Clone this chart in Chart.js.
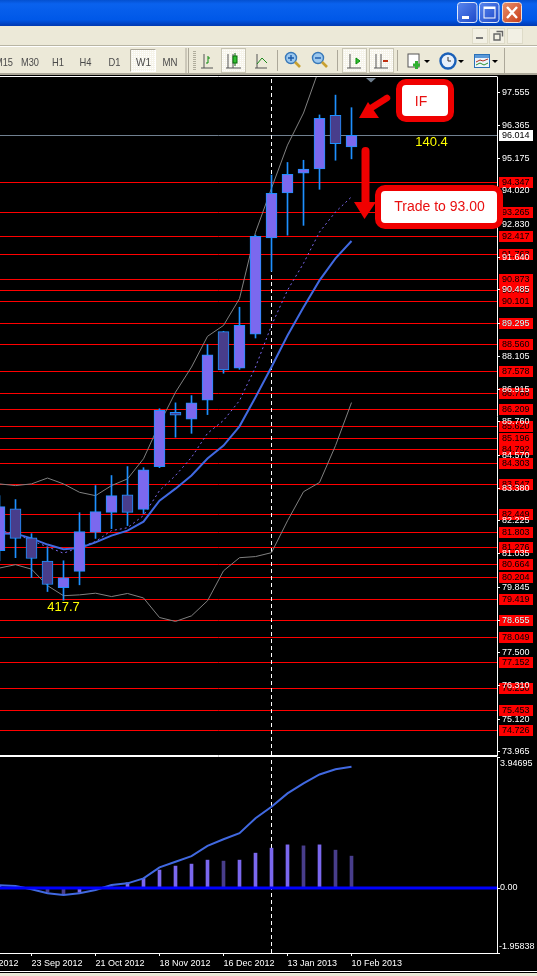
<!DOCTYPE html>
<html>
<head>
<meta charset="utf-8">
<title>Weekly chart</title>
<script src="https://cdn.jsdelivr.net/npm/chart.js@4"></script>
<style>
html, body { margin: 0; padding: 0; width: 537px; height: 976px; background: #000; overflow: hidden; }
#mainChart, #macdChart { position: absolute; left: -60px; }
#mainChart { top: 74px; }
#macdChart { top: 755px; }
#chrome { position: absolute; left: 0; top: 0; z-index: 2; font-family: "Liberation Sans", sans-serif; }
</style>
</head>
<body>
<canvas id="mainChart" width="597" height="682"></canvas>
<canvas id="macdChart" width="597" height="218"></canvas>

<svg id="chrome" width="537" height="976" xmlns="http://www.w3.org/2000/svg">
  <defs>
    <linearGradient id="title" x1="0" y1="0" x2="0" y2="1">
      <stop offset="0" stop-color="#0450d0"/><stop offset="0.15" stop-color="#0a62ee"/>
      <stop offset="0.75" stop-color="#0058e8"/><stop offset="1" stop-color="#0038b0"/>
    </linearGradient>
    <linearGradient id="winBtn" x1="0" y1="0" x2="1" y2="1">
      <stop offset="0" stop-color="#5a86ee"/><stop offset="1" stop-color="#1c48c8"/>
    </linearGradient>
    <linearGradient id="closeBtn" x1="0" y1="0" x2="1" y2="1">
      <stop offset="0" stop-color="#e8906c"/><stop offset="1" stop-color="#c83c18"/>
    </linearGradient>
    <pattern id="dots" width="2" height="2" patternUnits="userSpaceOnUse">
      <rect width="2" height="2" fill="#f6f4ea"/><rect width="1" height="1" fill="#fff"/>
    </pattern>
  </defs>

  <!-- window frame -->
  <rect x="0" y="0" width="537" height="26" fill="url(#title)"/>
  <rect x="0" y="26" width="537" height="47" fill="#ece9d8"/>
  <rect x="0" y="45" width="537" height="1" fill="#b8b5a4"/>
  <rect x="0" y="46" width="537" height="1" fill="#fff"/>
  <rect x="0" y="73" width="537" height="2" fill="#aca899"/>
  <rect x="0" y="973" width="537" height="3" fill="#ece9d8"/>
  <rect x="0" y="971" width="537" height="1" fill="#fff"/>

  <rect x="457.5" y="2.5" width="19.5" height="20" rx="3" fill="url(#winBtn)" stroke="#dfe8fb"/>
  <rect x="462" y="16" width="7" height="3" fill="#fff"/>
  <rect x="479.5" y="2.5" width="19.5" height="20" rx="3" fill="url(#winBtn)" stroke="#dfe8fb"/>
  <rect x="484" y="7" width="11" height="11" fill="none" stroke="#fff"/>
  <rect x="484" y="7" width="11" height="2" fill="#fff"/>
  <rect x="502.5" y="2.5" width="19" height="20" rx="3" fill="url(#closeBtn)" stroke="#f0e0d8"/>
  <path d="M507 7 L517 18 M517 7 L507 18" stroke="#fff" stroke-width="2.4"/>

  <rect x="472.5" y="28.5" width="15" height="15" fill="#f2f0e4" stroke="#dedbc8"/>
  <rect x="476" y="37" width="7" height="2" fill="#777"/>
  <rect x="489.5" y="28.5" width="15" height="15" fill="#f2f0e4" stroke="#dedbc8"/>
  <path d="M496.5 31.5 h6 v5 M494 34 h6 v6 h-6 z" fill="none" stroke="#666" stroke-width="1.4"/>
  <rect x="507.5" y="28.5" width="15" height="15" fill="#f2f0e4" stroke="#dedbc8"/>

  <!-- period buttons -->
  <rect x="130.5" y="49.5" width="25" height="22" fill="url(#dots)" stroke="#fff"/>
  <path d="M130.5 71.5 V49.5 H155.5" fill="none" stroke="#aca899"/>
  <g font-size="11" fill="#4a4a4a" text-anchor="middle">
    <text x="4" y="66" textLength="18" lengthAdjust="spacingAndGlyphs">M15</text>
    <text x="30" y="66" textLength="18" lengthAdjust="spacingAndGlyphs">M30</text>
    <text x="58" y="66" textLength="12" lengthAdjust="spacingAndGlyphs">H1</text>
    <text x="85.5" y="66" textLength="12" lengthAdjust="spacingAndGlyphs">H4</text>
    <text x="114.5" y="66" textLength="12" lengthAdjust="spacingAndGlyphs">D1</text>
    <text x="143.5" y="66" textLength="15" lengthAdjust="spacingAndGlyphs">W1</text>
    <text x="170" y="66" textLength="15" lengthAdjust="spacingAndGlyphs">MN</text>
  </g>
  <rect x="185.5" y="48" width="1" height="25" fill="#aca899"/>
  <rect x="188" y="48" width="1" height="25" fill="#aca899"/>
  <path d="M194.5 51 V70" stroke="#b0ad9c" stroke-width="3" stroke-dasharray="1 1"/>

  <!-- chart type buttons -->
  <g fill="none" stroke="#555">
    <path d="M204 54 V68 H213 M201 68 H204"/>
    <path d="M208 56 V63" stroke="#0a8a0a"/><path d="M206 63 H208 M208 58 H210" stroke="#0a8a0a"/>
    <rect x="221.5" y="48.5" width="24" height="24" fill="url(#dots)" stroke="#c8c5b4"/>
    <path d="M228 54 V68 H241 M226 68 H228 M233 54 V68"/>
    <rect x="233" y="56" width="4" height="7" fill="#30c030" stroke="#0a6a0a"/>
    <path d="M235 53 V56 M235 63 V66" stroke="#0a6a0a"/>
    <path d="M257 54 V68 H267 M255 68 H257"/>
    <path d="M257 64 L262 58 L267 63" stroke="#1a8a1a"/>
  </g>
  <rect x="277" y="50" width="1" height="21" fill="#aca899"/>

  <!-- zoom buttons -->
  <g>
    <circle cx="291" cy="58" r="5.5" fill="#9cc8ee" stroke="#3878b8" stroke-width="1.4"/>
    <path d="M288 58 H294 M291 55 V61" stroke="#1a5aa8" stroke-width="1.4"/>
    <path d="M295 62 L300 67" stroke="#c8a030" stroke-width="2.6"/>
    <circle cx="318" cy="58" r="5.5" fill="#9cc8ee" stroke="#3878b8" stroke-width="1.4"/>
    <path d="M315 58 H321" stroke="#1a5aa8" stroke-width="1.4"/>
    <path d="M322 62 L327 67" stroke="#c8a030" stroke-width="2.6"/>
  </g>
  <rect x="337" y="50" width="1" height="21" fill="#aca899"/>

  <!-- scroll buttons -->
  <g fill="none" stroke="#555">
    <rect x="342.5" y="48.5" width="24" height="24" fill="url(#dots)" stroke="#c8c5b4"/>
    <path d="M350 54 V68 H361 M347 68 H350"/>
    <path d="M356 58 L360 61 L356 64 Z" fill="#30c030" stroke="#0a8a0a"/>
    <rect x="369.5" y="48.5" width="24" height="24" fill="url(#dots)" stroke="#c8c5b4"/>
    <path d="M376 54 V68 H388 M374 68 H376 M381 54 V68"/>
    <path d="M383 61 H388" stroke="#c03010" stroke-width="2"/>
  </g>
  <rect x="397" y="50" width="1" height="21" fill="#aca899"/>

  <!-- new chart, clock, templates -->
  <rect x="408" y="54" width="11" height="13" fill="#fff" stroke="#555"/>
  <path d="M413 65 H420 M416.500 61 V69" stroke="#30b030" stroke-width="3"/>
  <path d="M424 60 H430 L427 63 Z" fill="#000"/>
  <circle cx="448" cy="61" r="7.500" fill="#e8f0fa" stroke="#1a60b8" stroke-width="2.400"/>
  <path d="M448 57 V61 H451" fill="none" stroke="#333"/>
  <path d="M458 60 H464 L461 63 Z" fill="#000"/>
  <rect x="474.500" y="54.500" width="15" height="13" fill="#eef4fb" stroke="#2a70b8"/>
  <rect x="475" y="55" width="14" height="3" fill="#5a98d8"/>
  <path d="M476 62 L480 60 L483 61 L488 59" fill="none" stroke="#b03020"/>
  <path d="M476 65 L480 63 L484 65 L488 63" fill="none" stroke="#2a9030"/>
  <path d="M492 60 H498 L495 63 Z" fill="#000"/>
  <rect x="504" y="48" width="1" height="25" fill="#aca899"/>

  <!-- shift marker -->
  <polygon points="366,78 376,78 371,82.500" fill="#708090"/>

  <!-- hand drawn notes on the chart -->
  <rect x="399" y="82" width="52" height="37" rx="7" fill="#fff" stroke="#f00000" stroke-width="6"/>
  <text x="421" y="106" font-size="14" fill="#e81010" text-anchor="middle">IF</text>
  <rect x="378" y="188" width="122" height="38" rx="7" fill="#fff" stroke="#f00000" stroke-width="6"/>
  <text x="439.500" y="211" font-size="14" fill="#e81010" text-anchor="middle">Trade to 93.00</text>
  <path d="M387 98 L368 110" stroke="#f00000" stroke-width="6.500" stroke-linecap="round"/>
  <polygon points="359,118 368,102 379,118" fill="#f00000"/>
  <path d="M365.500 151 V205" stroke="#f00000" stroke-width="8" stroke-linecap="round"/>
  <polygon points="354,202 376,202 364.500,219" fill="#f00000"/>
</svg>

<script>
// weeks on the time axis, 26 Aug 2012 is the first tick, cut off by the left edge
var weeks = ['26 Aug 2012', '2 Sep 2012', '9 Sep 2012', '16 Sep 2012', '23 Sep 2012', '30 Sep 2012', '7 Oct 2012', '14 Oct 2012',
    '21 Oct 2012', '28 Oct 2012', '4 Nov 2012', '11 Nov 2012', '18 Nov 2012', '25 Nov 2012', '2 Dec 2012', '9 Dec 2012',
    '16 Dec 2012', '23 Dec 2012', '30 Dec 2012', '6 Jan 2013', '13 Jan 2013', '20 Jan 2013', '27 Jan 2013', '3 Feb 2013', '10 Feb 2013'];
var timeTicks = [0, 4, 8, 12, 16, 20, 24];

var opens = [null, null, 81.15, 82.65, 81.61, 80.78, 79.83, 80.41, 81.81, 82.52, 83.15, 82.63, 84.16, 86.10, 85.86, 86.54,
    88.99, 87.68, 88.90, 92.34, 93.95, 94.66, 94.81, 96.73, 95.60];
var highs = [null, null, 83.12, 82.98, 81.76, 81.26, 80.79, 82.51, 83.48, 83.84, 84.16, 84.12, 86.23, 86.44, 86.70, 88.53,
    89.00, 89.86, 92.44, 94.59, 95.04, 95.12, 96.74, 97.45, 97.00];
var lows = [null, null, 80.79, 80.90, 80.19, 79.69, 79.38, 79.93, 81.59, 81.94, 82.05, 82.48, 84.12, 85.21, 85.35, 86.02,
    87.50, 87.64, 88.76, 91.15, 92.44, 92.79, 94.08, 95.12, 95.17];
var closes = [null, null, 82.73, 81.59, 80.87, 79.94, 80.18, 81.83, 82.55, 83.12, 82.52, 84.04, 86.17, 86.00, 86.44, 88.16,
    87.62, 89.21, 92.40, 93.94, 94.62, 94.80, 96.62, 95.71, 96.014];

var maSlow = [null, null, 81.77, 81.76, 81.59, 81.37, 81.20, 81.25, 81.45, 81.69, 81.87, 82.19, 82.94, 83.37, 83.84, 84.45,
    84.91, 85.60, 86.64, 87.72, 88.85, 89.86, 90.82, 91.61, 92.23];
var maFast = [null, null, 81.87, 81.76, 81.51, 81.29, 81.06, 81.27, 81.48, 81.87, 81.97, 82.41, 83.30, 83.84, 84.49, 85.35,
    85.81, 86.52, 87.72, 89.21, 90.47, 91.43, 92.55, 93.27, 93.81];
var bandUpper = [null, null, 83.54, 83.48, 83.54, 83.75, 83.54, 83.24, 83.12, 83.48, 83.72, 84.44, 85.69, 86.82, 87.72, 88.82,
    89.21, 90.17, 92.54, 94.12, 95.66, 96.81, 98.42];
var bandLower = [null, null, 80.53, 80.65, 80.49, 79.90, 79.54, 79.57, 79.63, 79.51, 79.62, 79.46, 78.76, 78.62, 78.82, 79.36,
    80.43, 80.90, 80.94, 81.08, 82.22, 83.26, 83.59, 84.91, 86.45];

var macdLine = [null, null, 0.08, 0.06, -0.04, -0.16, -0.21, -0.16, -0.06, 0.09, 0.14, 0.29, 0.62, 0.79, 0.96, 1.27,
    1.47, 1.65, 2.10, 2.45, 2.85, 3.15, 3.42, 3.58, 3.65];
var macdBars = [null, null, 0.05, 0.02, 0, -0.13, -0.17, -0.13, 0, 0.03, 0.16, 0.29, 0.54, 0.66, 0.72, 0.84,
    0.81, 0.84, 1.05, 1.20, 1.30, 1.27, 1.30, 1.14, 0.96];
var macdBarsDark = [5, 6, 16, 21, 23, 24];

var priceTicks = [97.555, 96.365, 95.175, 94.020, 92.830, 91.640, 90.485, 89.295, 88.105, 86.915, 85.760, 84.570, 83.380,
    82.225, 81.035, 79.845, 78.655, 77.500, 76.310, 75.120, 73.965];
var levels = [94.347, 93.265, 92.417, 91.763, 90.873, 90.485, 90.101, 89.295, 88.560, 87.578, 86.788, 86.209, 85.620, 85.196,
    84.792, 84.303, 83.547, 82.449, 81.803, 81.276, 80.664, 80.204, 79.419, 78.655, 78.049, 77.152, 76.250, 75.453, 74.726];
var bidPrice = 96.014;
var priceMin = 73.841, priceMax = 98.098;
var macdMin = -1.95838, macdMax = 3.94695;
var macdTicks = [3.94695, 0, -1.95838];
var cursorWeek = 19;

// x axis runs 16px a week, starting 60px left of the page
var xMin = -1.71875, xMax = 33.09375;
var lightBody = '#7b68ee', darkBody = '#483d8b', wickBlue = '#1e90ff';
var axisFont = { family: 'Liberation Sans', size: 9 };

function points(values) {
    var out = [];
    values.forEach(function(v, i) {
        if (v !== null) out.push({ x: i, y: v });
    });
    return out;
}

function ranges(a, b) {
    var out = [];
    a.forEach(function(v, i) {
        if (v !== null) out.push({ x: i, y: [v, b[i]] });
    });
    return out;
}

function candleColor(ctx) {
    var i = ctx.raw ? ctx.raw.x : 0;
    return closes[i] >= opens[i] ? lightBody : darkBody;
}

function lineSet(values, color, width, order, dash) {
    return {
        type: 'line', data: points(values), borderColor: color, borderWidth: width, borderDash: dash || [],
        pointRadius: 0, tension: 0, order: order
    };
}

function cursorSet(top, bottom) {
    return {
        type: 'line', data: [{ x: cursorWeek, y: top }, { x: cursorWeek, y: bottom }], borderColor: '#fff',
        borderWidth: 1, borderDash: [4, 3], pointRadius: 0, order: 9
    };
}

function xScale(showTicks) {
    return {
        type: 'linear', min: xMin, max: xMax, offset: false, display: showTicks,
        grid: { offset: false, drawOnChartArea: false, color: '#fff', tickLength: 3 },
        border: { color: '#fff' },
        afterBuildTicks: function(s) { s.ticks = timeTicks.map(function(v) { return { value: v }; }); },
        afterFit: function(s) { if (showTicks) s.height = 20; },
        ticks: {
            color: '#fff', font: axisFont, autoSkip: false, maxRotation: 0, align: 'start', padding: 2,
            callback: function(v) { return weeks[v]; }
        }
    };
}

// red level lines with their price tags, drawn before the axis so tick labels stay on top
var levelPlugin = {
    id: 'levels',
    beforeDraw: function(chart) {
        var c = chart.ctx, y = chart.scales.y, a = chart.chartArea;
        c.save();
        c.font = '9px "Liberation Sans"';
        c.textBaseline = 'middle';
        levels.forEach(function(p) {
            var py = Math.round(y.getPixelForValue(p)) + 0.5;
            c.strokeStyle = '#ff0000';
            c.beginPath(); c.moveTo(a.left, py); c.lineTo(a.right, py); c.stroke();
            c.fillStyle = '#ff0000';
            c.fillRect(a.right + 2, py - 5.5, 34, 11);
            c.fillStyle = '#000';
            c.fillText(p.toFixed(3), a.right + 5, py + 0.5);
        });
        var by = Math.round(y.getPixelForValue(bidPrice)) + 0.5;
        c.strokeStyle = '#708090';
        c.beginPath(); c.moveTo(a.left, by); c.lineTo(a.right, by); c.stroke();
        c.fillStyle = '#fff';
        c.fillRect(a.right + 2, by - 5.5, 34, 11);
        c.fillStyle = '#000';
        c.fillText(bidPrice.toFixed(3), a.right + 5, by + 0.5);
        c.restore();
    },
    afterDraw: function(chart) {
        var c = chart.ctx, a = chart.chartArea, x = chart.scales.x, y = chart.scales.y;
        c.save();
        c.strokeStyle = '#fff';
        c.beginPath();
        c.moveTo(a.left, a.top - 0.5); c.lineTo(a.right + 0.5, a.top - 0.5);
        c.moveTo(a.left, a.bottom + 0.5); c.lineTo(a.right + 0.5, a.bottom + 0.5);
        c.stroke();
        c.fillStyle = '#ffff00';
        c.font = '13px "Liberation Sans"';
        c.textAlign = 'center';
        c.textBaseline = 'middle';
        c.fillText('417.7', x.getPixelForValue(6), y.getPixelForValue(79.12));
        c.fillText('140.4', x.getPixelForValue(29), y.getPixelForValue(95.77));
        c.restore();
    }
};

// the macd panel puts its top and bottom labels inside the panel
var macdLabels = {
    id: 'macdLabels',
    afterDraw: function(chart) {
        var c = chart.ctx, a = chart.chartArea, y = chart.scales.y;
        c.save();
        c.strokeStyle = '#fff';
        c.beginPath(); c.moveTo(a.left, a.top - 0.5); c.lineTo(a.right + 0.5, a.top - 0.5); c.stroke();
        c.fillStyle = '#fff';
        c.font = '9px "Liberation Sans"';
        c.textBaseline = 'middle';
        c.fillText('3.94695', a.right + 3, y.getPixelForValue(macdMax) + 6.5);
        c.fillText('0.00', a.right + 3, y.getPixelForValue(0));
        c.fillText('-1.95838', a.right + 2, y.getPixelForValue(macdMin) - 6.5);
        c.restore();
    }
};

new Chart(document.getElementById('mainChart').getContext('2d'), {
    type: 'bar',
    data: {
        datasets: [
            { data: ranges(opens, closes), backgroundColor: candleColor, borderColor: wickBlue, borderWidth: 1, borderSkipped: false, barThickness: 11, grouped: false, order: 0 },
            { data: ranges(lows, highs), backgroundColor: wickBlue, barThickness: 1, grouped: false, order: 1 },
            lineSet(maSlow, '#4169e1', 2, 2),
            lineSet(maFast, '#7b68ee', 1, 3, [2, 3]),
            lineSet(bandUpper, '#808080', 1, 4),
            lineSet(bandLower, '#808080', 1, 4),
            cursorSet(priceMin, priceMax)
        ]
    },
    options: {
        responsive: false, animation: false, devicePixelRatio: 1,
        layout: { autoPadding: false, padding: { top: 3, bottom: 1 } },
        plugins: { legend: { display: false }, tooltip: { enabled: false } },
        scales: {
            x: xScale(false),
            y: {
                position: 'right', min: priceMin, max: priceMax,
                grid: { drawOnChartArea: false, color: '#fff', tickLength: 3 },
                border: { color: '#fff' },
                afterBuildTicks: function(s) { s.ticks = priceTicks.map(function(v) { return { value: v }; }); },
                afterFit: function(s) { s.width = 40; s.paddingTop = 0; s.paddingBottom = 0; },
                ticks: {
                    color: '#fff', font: axisFont, padding: 2, autoSkip: false,
                    callback: function(v) { return v.toFixed(3); }
                }
            }
        }
    },
    plugins: [levelPlugin]
});

new Chart(document.getElementById('macdChart').getContext('2d'), {
    type: 'bar',
    data: {
        datasets: [
            lineSet(weeks.concat(new Array(10).fill(0)).map(function() { return 0; }), '#0000ff', 3, 0),
            lineSet(macdLine, '#4169e1', 2, 1),
            {
                data: points(macdBars), barThickness: 3, grouped: false, order: 2,
                backgroundColor: function(ctx) {
                    return ctx.raw && macdBarsDark.indexOf(ctx.raw.x) >= 0 ? darkBody : lightBody;
                }
            },
            cursorSet(macdMin, macdMax)
        ]
    },
    options: {
        responsive: false, animation: false, devicePixelRatio: 1,
        layout: { autoPadding: false, padding: { top: 2, bottom: 0 } },
        plugins: { legend: { display: false }, tooltip: { enabled: false } },
        scales: {
            x: xScale(true),
            y: {
                position: 'right', min: macdMin, max: macdMax,
                grid: { drawOnChartArea: false, color: '#fff', tickLength: 3 },
                border: { color: '#fff' },
                afterBuildTicks: function(s) { s.ticks = macdTicks.map(function(v) { return { value: v }; }); },
                afterFit: function(s) { s.width = 40; },
                ticks: { display: false }
            }
        }
    },
    plugins: [macdLabels]
});
</script>
</body>
</html>
